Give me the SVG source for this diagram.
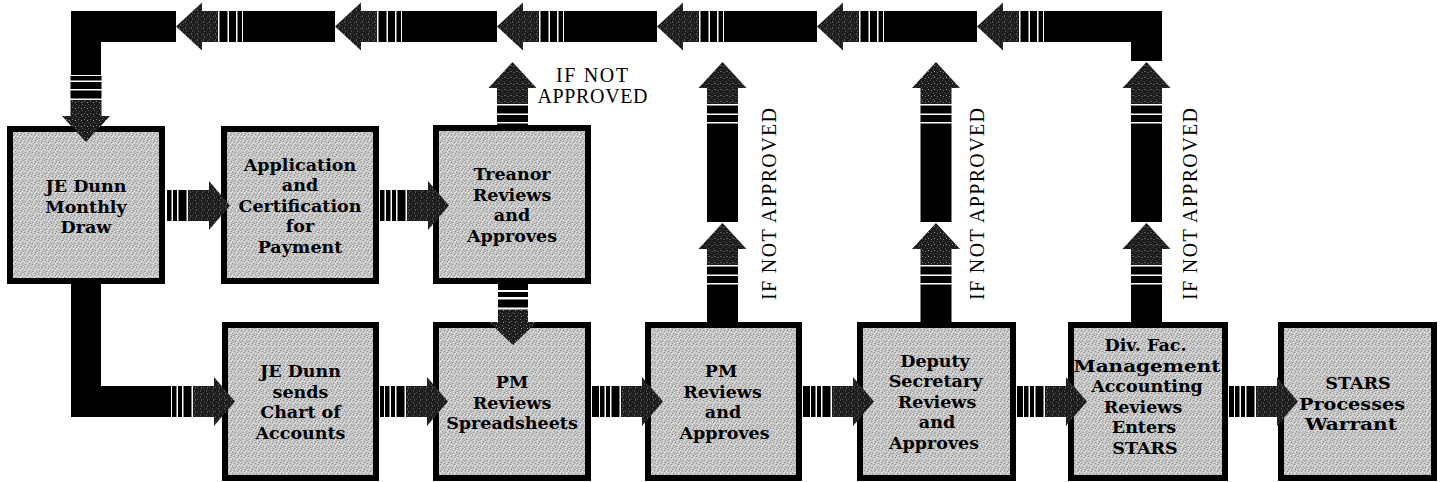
<svg xmlns="http://www.w3.org/2000/svg" xmlns:xlink="http://www.w3.org/1999/xlink" width="1443" height="482" viewBox="0 0 1443 482">
<style>
.box{fill:url(#grain);stroke:#000;stroke-width:6}
.bt{font-family:"DejaVu Serif","Liberation Serif",serif;font-weight:bold;font-size:17.5px;text-anchor:middle;fill:#000}
.nt{font-family:"Liberation Serif","Times New Roman",serif;font-size:20px;fill:#000}
.blk{fill:#000}
</style>
<defs>
<pattern id="grain" width="7" height="7" patternUnits="userSpaceOnUse">
<rect width="7" height="7" fill="#c3c3c3"/>
<rect x="0" y="0" width="1" height="1" fill="#8c8c8c"/>
<rect x="3" y="1" width="1" height="1" fill="#909090"/>
<rect x="6" y="2" width="1" height="1" fill="#8a8a8a"/>
<rect x="1" y="4" width="1" height="1" fill="#949494"/>
<rect x="4" y="5" width="1" height="1" fill="#8e8e8e"/>
<rect x="2" y="6" width="1" height="1" fill="#999"/>
<rect x="2" y="0" width="1" height="1" fill="#ececec"/>
<rect x="5" y="1" width="1" height="1" fill="#e6e6e6"/>
<rect x="0" y="3" width="1" height="1" fill="#eee"/>
<rect x="3" y="3" width="1" height="1" fill="#e2e2e2"/>
<rect x="6" y="4" width="1" height="1" fill="#ebebeb"/>
<rect x="5" y="6" width="1" height="1" fill="#e8e8e8"/>
<rect x="1" y="2" width="1" height="1" fill="#e4e4e4"/>
</pattern>
<pattern id="stip" width="6" height="6" patternUnits="userSpaceOnUse">
<rect width="6" height="6" fill="#1c1c1c"/>
<rect x="1" y="1" width="1" height="1" fill="#7a7a7a"/>
<rect x="4" y="3" width="1" height="1" fill="#5c5c5c"/>
<rect x="2" y="4" width="1" height="1" fill="#999"/>
<rect x="5" y="0" width="1" height="1" fill="#444"/>
</pattern>
<g id="arS">
<polygon points="0,0 -21,-24.5 -21,24.5" fill="url(#stip)"/>
<rect x="-42" y="-15.5" width="21.5" height="31" fill="url(#stip)"/>
<rect x="-51.5" y="-15.5" width="8" height="31"/>
<rect x="-57" y="-15.5" width="4" height="31"/>
<rect x="-63" y="-15.5" width="4.5" height="31"/>
</g>
<g id="arL">
<polygon points="0,0 -26,-24 -26,24" fill="url(#stip)"/>
<rect x="-42" y="-15.5" width="16.5" height="31" fill="url(#stip)"/>
<rect x="-51.5" y="-15.5" width="8" height="31"/>
<rect x="-60" y="-15.5" width="7" height="31"/>
<rect x="-66" y="-15.5" width="4.5" height="31"/>
</g>
</defs>
<rect width="1443" height="482" fill="#fff"/>

<g id="n1"><rect class="box" x="10" y="129" width="152" height="152"/>
<text class="bt" x="86" y="192">JE Dunn</text>
<text class="bt" x="86" y="212.5">Monthly</text>
<text class="bt" x="86" y="233">Draw</text></g>
<g id="n2"><rect class="box" x="224" y="129" width="152" height="152"/>
<text class="bt" x="300" y="170.5">Application</text>
<text class="bt" x="300" y="191">and</text>
<text class="bt" x="300" y="211.5">Certification</text>
<text class="bt" x="300" y="232">for</text>
<text class="bt" x="300" y="252.5">Payment</text></g>
<g id="n3"><rect class="box" x="436" y="128" width="152" height="153"/>
<text class="bt" x="512" y="180">Treanor</text>
<text class="bt" x="512" y="200.5">Reviews</text>
<text class="bt" x="512" y="221">and</text>
<text class="bt" x="512" y="241.5">Approves</text></g>
<g id="n4"><rect class="box" x="225" y="325" width="151" height="153"/>
<text class="bt" x="300.5" y="377">JE Dunn</text>
<text class="bt" x="300.5" y="397.5">sends</text>
<text class="bt" x="300.5" y="418">Chart of</text>
<text class="bt" x="300.5" y="438.5">Accounts</text></g>
<g id="n5"><rect class="box" x="436" y="325" width="152" height="153"/>
<text class="bt" x="512" y="388">PM</text>
<text class="bt" x="512" y="408.5">Reviews</text>
<text class="bt" x="512" y="429">Spreadsheets</text></g>
<g id="n6"><rect class="box" x="648" y="325" width="151" height="153"/>
<text class="bt" x="721" y="377">PM</text>
<text class="bt" x="722.5" y="397.5">Reviews</text>
<text class="bt" x="723" y="418">and</text>
<text class="bt" x="724.5" y="438.5">Approves</text></g>
<g id="n7"><rect class="box" x="860" y="325" width="153" height="153"/>
<text class="bt" x="935" y="366.5">Deputy</text>
<text class="bt" x="935.5" y="387">Secretary</text>
<text class="bt" x="937" y="407.5">Reviews</text>
<text class="bt" x="937" y="428">and</text>
<text class="bt" x="934" y="448.5">Approves</text></g>
<g id="n8"><rect class="box" x="1071" y="325" width="154" height="153"/>
<text class="bt" x="1145.5" y="351">Div. Fac.</text>
<text class="bt" x="1147" y="371.5" textLength="147" lengthAdjust="spacingAndGlyphs">Management</text>
<text class="bt" x="1147" y="392">Accounting</text>
<text class="bt" x="1143" y="412.5">Reviews</text>
<text class="bt" x="1144" y="433">Enters</text>
<text class="bt" x="1145" y="453.5">STARS</text></g>
<g id="n9"><rect class="box" x="1281" y="325" width="153" height="153"/>
<text class="bt" x="1358" y="389">STARS</text>
<text class="bt" x="1352" y="409.5" textLength="106" lengthAdjust="spacingAndGlyphs">Processes</text>
<text class="bt" x="1351" y="430" textLength="92" lengthAdjust="spacingAndGlyphs">Warrant</text></g>

<g id="connectors">
<rect class="blk" x="71" y="11" width="105" height="31"/>
<rect class="blk" x="71" y="11" width="30" height="64"/>
<use href="#arL" transform="translate(86,142) rotate(90)"/>
<use href="#arL" transform="translate(176,26.5) rotate(180)"/>
<rect class="blk" x="243" y="11" width="92" height="31"/>
<use href="#arL" transform="translate(335,26.5) rotate(180)"/>
<rect class="blk" x="402" y="11" width="95" height="31"/>
<use href="#arL" transform="translate(497,26.5) rotate(180)"/>
<rect class="blk" x="564" y="11" width="93" height="31"/>
<use href="#arL" transform="translate(657,26.5) rotate(180)"/>
<rect class="blk" x="724" y="11" width="93" height="31"/>
<use href="#arL" transform="translate(817,26.5) rotate(180)"/>
<rect class="blk" x="884" y="11" width="93" height="31"/>
<use href="#arL" transform="translate(977,26.5) rotate(180)"/>
<rect class="blk" x="1044" y="11" width="118" height="31"/>
<rect class="blk" x="1131" y="11" width="31" height="50"/>

<use href="#arS" transform="translate(230,205.5)"/>
<rect class="blk" x="380" y="190" width="4.5" height="31"/>
<use href="#arS" transform="translate(449,205.5)"/>

<use href="#arL" transform="translate(512.5,62) rotate(-90)"/>
<g transform="translate(513,0)">
<rect class="blk" x="-15" y="284" width="30" height="6"/>
<rect class="blk" x="-15" y="292" width="30" height="5"/>
<rect class="blk" x="-15" y="299.5" width="30" height="8"/>
<rect x="-15" y="309.5" width="30" height="13" fill="url(#stip)"/>
<polygon points="-24,322 24,322 0,345" fill="url(#stip)"/>
</g>

<rect class="blk" x="71" y="284" width="30" height="133"/>
<rect class="blk" x="71" y="386" width="100" height="31"/>
<use href="#arS" transform="translate(235,401.5)"/>
<rect class="blk" x="380" y="386" width="4" height="31"/>
<use href="#arS" transform="translate(448,401.5)"/>
<rect class="blk" x="592" y="386" width="7" height="31"/>
<use href="#arS" transform="translate(663,401.5)"/>
<rect class="blk" x="803" y="386" width="7" height="31"/>
<use href="#arS" transform="translate(874,401.5)"/>
<rect class="blk" x="1017" y="386" width="6" height="31"/>
<use href="#arS" transform="translate(1087,401.5)"/>
<rect class="blk" x="1229" y="386" width="5" height="31"/>
<use href="#arS" transform="translate(1298,401.5)"/>

<use href="#arL" transform="translate(722.5,62) rotate(-90)"/>
<rect class="blk" x="707" y="128" width="31" height="94"/>
<use href="#arL" transform="translate(722.5,223) rotate(-90)"/>
<rect class="blk" x="707" y="289" width="31" height="34"/>

<use href="#arL" transform="translate(936,62) rotate(-90)"/>
<rect class="blk" x="920.5" y="128" width="31" height="94"/>
<use href="#arL" transform="translate(936,223) rotate(-90)"/>
<rect class="blk" x="920.5" y="289" width="31" height="34"/>

<use href="#arL" transform="translate(1146.5,62) rotate(-90)"/>
<rect class="blk" x="1131" y="128" width="31" height="94"/>
<use href="#arL" transform="translate(1146.5,223) rotate(-90)"/>
<rect class="blk" x="1131" y="289" width="31" height="34"/>
</g>

<g id="labels">
<text class="nt" font-size="21" text-anchor="middle" x="592" y="82" textLength="72" lengthAdjust="spacing">IF NOT</text>
<text class="nt" font-size="21" text-anchor="middle" x="592.5" y="103" textLength="110" lengthAdjust="spacing">APPROVED</text>
<text class="nt" transform="translate(776,300) rotate(-90)" textLength="192" lengthAdjust="spacing">IF NOT APPROVED</text>
<text class="nt" transform="translate(984,300) rotate(-90)" textLength="192" lengthAdjust="spacing">IF NOT APPROVED</text>
<text class="nt" transform="translate(1197,300) rotate(-90)" textLength="192" lengthAdjust="spacing">IF NOT APPROVED</text>
</g>
</svg>
